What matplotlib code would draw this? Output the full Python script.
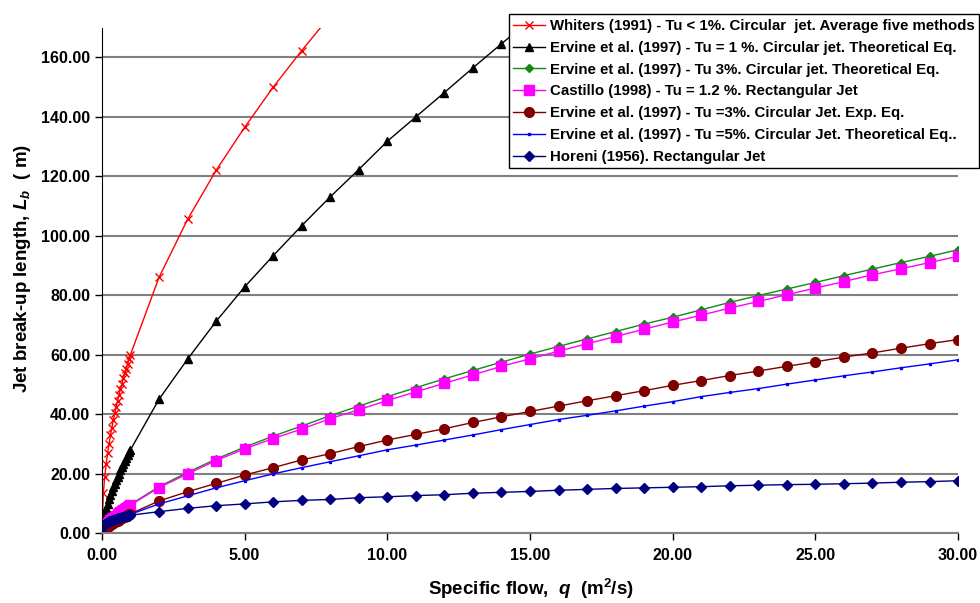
import numpy as np
import matplotlib
matplotlib.use("Agg")
import matplotlib.pyplot as plt
from matplotlib.ticker import FormatStrFormatter

plt.rcParams['font.family'] = ['Liberation Sans', 'DejaVu Sans']
plt.rcParams['font.weight'] = 'bold'
plt.rcParams['mathtext.fontset'] = 'custom'
plt.rcParams['mathtext.rm'] = 'Liberation Sans:bold'
plt.rcParams['mathtext.it'] = 'Liberation Sans:bold:italic'
plt.rcParams['mathtext.bf'] = 'Liberation Sans:bold'

# specific flow q (m2/s): dense part 0..1 then 2..30
q_dense = [0, 0.05, 0.1, 0.15, 0.2, 0.25, 0.3, 0.35, 0.4, 0.45, 0.5,
           0.55, 0.6, 0.65, 0.7, 0.75, 0.8, 0.85, 0.9, 0.95, 1.0]
q_int = list(range(2, 31))
q = q_dense + q_int

# jet break-up length Lb (m)
whiters = [0, 13.5, 19.0, 23.3, 26.9, 30.0, 32.9, 35.5, 38.0, 40.3, 42.5,
           44.5, 46.5, 48.4, 50.2, 52.0, 53.7, 55.3, 56.9, 58.5, 60.0,
           86.0, 105.5, 122.0, 136.5, 150.0, 162.3, 174.0]
ervine_1 = [0, 4.2, 6.5, 8.3, 9.9, 11.4, 12.8, 14.1, 15.4, 16.6, 17.8,
            18.9, 20.0, 21.1, 22.2, 23.2, 24.2, 25.2, 26.1, 27.1, 28.0,
            45.0, 58.5, 71.2, 82.8, 93.3, 103.4, 113.1, 122.3, 131.8, 140.0,
            148.2, 156.5, 164.6, 172.5]
ervine_3 = [0, 1.6, 2.3, 2.9, 3.4, 3.9, 4.4, 4.8, 5.2, 5.6, 6.0,
            6.4, 6.8, 7.2, 7.5, 7.9, 8.2, 8.6, 8.9, 9.3, 9.6,
            15.6, 20.4, 24.9, 28.9, 32.6, 36.0, 39.5, 42.7, 45.9, 48.9,
            51.9, 54.7, 57.5, 60.2, 62.8, 65.3, 67.8, 70.3, 72.6, 75.1,
            77.6, 79.9, 82.1, 84.3, 86.6, 88.8, 91.0, 93.1, 95.3]
castillo = [0, 1.5, 2.2, 2.8, 3.3, 3.8, 4.3, 4.7, 5.1, 5.5, 5.9,
            6.3, 6.7, 7.0, 7.4, 7.7, 8.1, 8.4, 8.7, 9.1, 9.4,
            15.3, 19.9, 24.4, 28.3, 31.8, 35.0, 38.5, 41.5, 44.6, 47.5,
            50.4, 53.2, 56.1, 58.6, 61.2, 63.7, 66.1, 68.6, 71.0, 73.3,
            75.7, 77.9, 80.2, 82.4, 84.6, 86.9, 88.9, 91.0, 93.1]
ervine_3exp = [0, 0.9, 1.3, 1.7, 2.0, 2.4, 2.7, 3.0, 3.3, 3.6, 3.9,
               4.2, 4.5, 4.7, 5.0, 5.3, 5.5, 5.8, 6.0, 6.3, 6.5,
               10.8, 13.9, 16.7, 19.5, 22.0, 24.6, 26.7, 29.1, 31.3, 33.2,
               35.1, 37.2, 39.1, 40.9, 42.7, 44.5, 46.2, 47.9, 49.7, 51.3,
               53.0, 54.5, 56.1, 57.6, 59.2, 60.6, 62.2, 63.7, 65.1]
ervine_5 = [0, 1.1, 1.6, 2.0, 2.4, 2.7, 3.0, 3.3, 3.6, 3.9, 4.1,
            4.4, 4.6, 4.9, 5.1, 5.3, 5.5, 5.7, 5.9, 6.1, 6.3,
            9.8, 12.5, 15.2, 17.6, 19.9, 22.0, 24.0, 26.0, 28.0, 29.6,
            31.3, 33.0, 34.8, 36.5, 38.2, 39.6, 41.1, 42.7, 44.2, 45.9,
            47.3, 48.6, 50.1, 51.5, 52.9, 54.2, 55.6, 56.9, 58.3]
horeni = [0, 2.4, 2.9, 3.3, 3.6, 3.9, 4.1, 4.3, 4.5, 4.7, 4.8,
          4.9, 5.1, 5.2, 5.3, 5.5, 5.6, 5.7, 5.8, 5.9, 6.0,
          7.2, 8.3, 9.2, 9.8, 10.5, 11.0, 11.3, 11.9, 12.2, 12.6,
          12.9, 13.4, 13.7, 14.0, 14.4, 14.7, 15.0, 15.2, 15.4, 15.6,
          15.9, 16.1, 16.3, 16.4, 16.6, 16.8, 17.1, 17.3, 17.6]

series = [
    ("Whiters (1991) - Tu < 1%. Circular  jet. Average five methods", whiters,
     dict(color='#FF0000', marker='x', ms=6, mew=1.0)),
    ("Ervine et al. (1997) - Tu = 1 %. Circular jet. Theoretical Eq.", ervine_1,
     dict(color='black', marker='^', ms=6)),
    ("Ervine et al. (1997) - Tu 3%. Circular jet. Theoretical Eq.", ervine_3,
     dict(color='#138a13', marker='D', ms=4)),
    ("Castillo (1998) - Tu = 1.2 %. Rectangular Jet", castillo,
     dict(color='#FF00FF', marker='s', ms=6.5)),
    ("Ervine et al. (1997) - Tu =3%. Circular Jet. Exp. Eq.", ervine_3exp,
     dict(color='#800000', marker='o', ms=7)),
    ("Ervine et al. (1997) - Tu =5%. Circular Jet. Theoretical Eq..", ervine_5,
     dict(color='#0000FF', marker='s', ms=2)),
    ("Horeni (1956). Rectangular Jet", horeni,
     dict(color='#000080', marker='D', ms=5.5)),
]

fig = plt.figure(figsize=(9.8, 6.03), dpi=100)
ax = fig.add_axes([0.104, 0.116, 0.8736, 0.838])

for label, vals, style in series:
    ax.plot(q[:len(vals)], vals, lw=1.0, label=label, **style)

ax.set_xlim(0, 30)
ax.set_ylim(0, 170)
ax.set_xticks(np.arange(0, 31, 5))
ax.set_yticks(np.arange(0, 161, 20))
ax.xaxis.set_major_formatter(FormatStrFormatter('%.2f'))
ax.yaxis.set_major_formatter(FormatStrFormatter('%.2f'))
ax.tick_params(axis='both', labelsize=11.5, direction='out', length=5, width=1)
ax.tick_params(axis='x', pad=6)
for t in ax.get_xticklabels() + ax.get_yticklabels():
    t.set_fontweight('bold')

ax.yaxis.grid(True, color='#808080', lw=1.5)
ax.set_axisbelow(True)
ax.spines['top'].set_visible(False)
ax.spines['right'].set_visible(False)
ax.spines['left'].set_color('black')
ax.spines['bottom'].set_color('#808080')
ax.spines['bottom'].set_linewidth(1.5)

ax.set_xlabel(r"Specific flow,  $q$  (m$^2$/s)", fontsize=13.5, fontweight='bold', va='center')
ax.set_ylabel(r"Jet break-up length, $L_b$  ( m)", fontsize=13.5, fontweight='bold', va='center')
ax.xaxis.set_label_coords(0.501, -0.111)
ax.yaxis.set_label_coords(-0.093, 0.523)

leg = fig.legend(loc='upper right', bbox_to_anchor=(0.999, 0.976),
                 prop={'size': 10.8, 'weight': 'bold'}, frameon=True, fancybox=False,
                 framealpha=1, edgecolor='black', handlelength=2.1,
                 borderpad=0.3, labelspacing=0.52, handletextpad=0.35,
                 borderaxespad=0)
leg.get_frame().set_linewidth(1.0)

fig.savefig("out.png", dpi=100)
